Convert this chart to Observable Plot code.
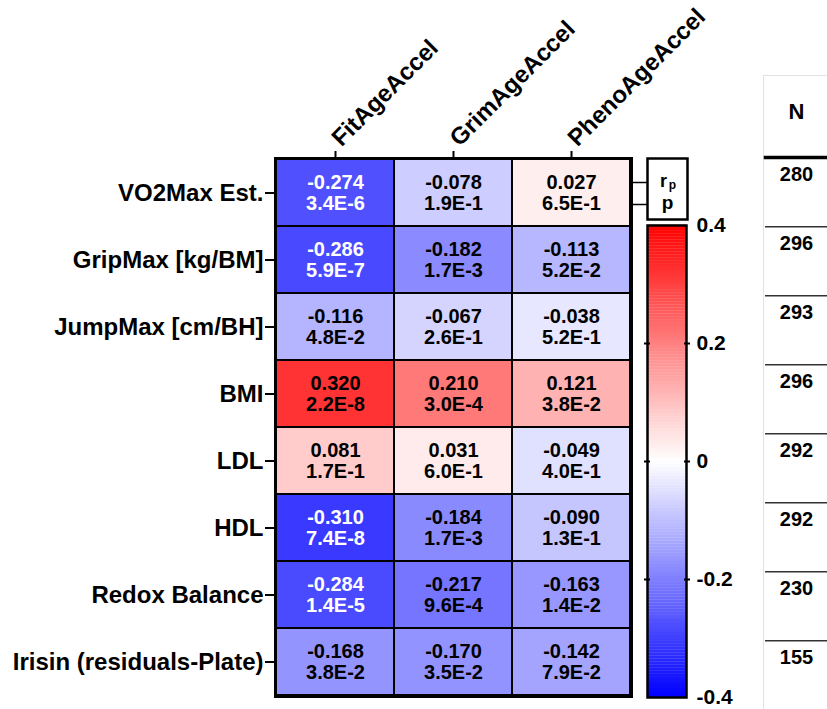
<!DOCTYPE html>
<html>
<head>
<meta charset="utf-8">
<script src="https://cdn.jsdelivr.net/npm/d3@7"></script>
<script src="https://cdn.jsdelivr.net/npm/@observablehq/plot@0.6"></script>
<style>
  html, body { margin: 0; padding: 0; background: #fff; }
  #chart { position: relative; width: 827px; height: 709px; overflow: hidden;
           font-family: "Liberation Sans", Arial, sans-serif; }
  #chart > svg { position: absolute; overflow: visible; }
</style>
</head>
<body>
<div id="chart"></div>
<script>
// Traits (rows) and epigenetic clocks (columns)
const rows = ["VO2Max Est.", "GripMax [kg/BM]", "JumpMax [cm/BH]", "BMI", "LDL", "HDL",
              "Redox Balance", "Irisin (residuals-Plate)"];
const columns = ["FitAgeAccel", "GrimAgeAccel", "PhenoAgeAccel"];

// Pearson r and p-value per clock
const fitR   = [-0.274, -0.286, -0.116, 0.320, 0.081, -0.310, -0.284, -0.168];
const fitP   = ["3.4E-6", "5.9E-7", "4.8E-2", "2.2E-8", "1.7E-1", "7.4E-8", "1.4E-5", "3.8E-2"];
const grimR  = [-0.078, -0.182, -0.067, 0.210, 0.031, -0.184, -0.217, -0.170];
const grimP  = ["1.9E-1", "1.7E-3", "2.6E-1", "3.0E-4", "6.0E-1", "1.7E-3", "9.6E-4", "3.5E-2"];
const phenoR = [0.027, -0.113, -0.038, 0.121, -0.049, -0.090, -0.163, -0.142];
const phenoP = ["6.5E-1", "5.2E-2", "5.2E-1", "3.8E-2", "4.0E-1", "1.3E-1", "1.4E-2", "7.9E-2"];

// Sample size per trait
const nValues = [280, 296, 293, 296, 292, 292, 230, 155];

// Colour bar ticks
const barTicks = [-0.4, -0.2, 0, 0.2, 0.4];

const seriesR = [fitR, grimR, phenoR];
const seriesP = [fitP, grimP, phenoP];
const cells = columns.flatMap((col, j) =>
  rows.map((row, i) => ({row, col, r: seriesR[j][i], p: seriesP[j][i]})));
const nTable = rows.map((row, i) => ({row, n: nValues[i]}));

const FONT = "'Liberation Sans', Arial, sans-serif";
const color = {type: "linear", domain: [-0.4, 0, 0.4], range: ["#0000ff", "#ffffff", "#ff0000"], interpolate: "rgb"};
const fmtR = r => r.toFixed(3);
const fmtTick = v => v === 0 ? "0" : v.toFixed(1);

const chart = document.getElementById("chart");
function place(svg, left, top) {
  svg.style.left = left + "px";
  svg.style.top = top + "px";
  chart.appendChild(svg);
}

// Heatmap
const heat = Plot.plot({
  width: 640, height: 709,
  marginLeft: 275, marginRight: 9, marginTop: 158, marginBottom: 13,
  style: {fontFamily: FONT, background: "transparent"},
  x: {type: "band", domain: columns, padding: 0},
  y: {type: "band", domain: rows, padding: 0},
  color,
  marks: [
    Plot.cell(cells, {x: "col", y: "row", fill: "r", stroke: "black", strokeWidth: 2}),
    Plot.frame({stroke: "black", strokeWidth: 3}),
    Plot.text(cells, {
      x: "col", y: "row",
      text: d => fmtR(d.r) + "\n" + d.p,
      fill: d => d.r < -0.25 ? "white" : "black",
      fontSize: 20, fontWeight: "bold", lineHeight: 1.03
    }),
    Plot.axisY({anchor: "left", tickSize: 10, tickPadding: 2, strokeWidth: 2,
                fontSize: 24, fontWeight: "bold", fill: "black", label: null}),
    Plot.axisX({anchor: "top", tickSize: 8, strokeWidth: 2, tickFormat: () => "", label: null}),
    Plot.text(columns, {
      x: d => d, frameAnchor: "top", dx: 6, dy: -11,
      rotate: -45, textAnchor: "start", lineAnchor: "bottom",
      fontSize: 24, fontWeight: "bold", fill: "black"
    })
  ]
});
place(heat, 0, 0);

// Key box: which line is r and which is p
const key = Plot.plot({
  width: 70, height: 76,
  marginLeft: 22, marginRight: 8, marginTop: 8, marginBottom: 7,
  style: {fontFamily: FONT, background: "transparent"},
  y: {type: "point", domain: ["r", "p"], range: [32, 54], padding: 0},
  marks: [
    Plot.frame({stroke: "black", strokeWidth: 2.5}),
    Plot.axisY({anchor: "left", tickSize: 16, strokeWidth: 1.5, tickFormat: () => "", label: null}),
    Plot.text(["r"], {y: d => d, text: ["r"], dx: -4, dy: -1, fontSize: 18, fontWeight: "bold"}),
    Plot.text(["r"], {y: d => d, text: ["p"], dx: 5, dy: 3, fontSize: 12, fontWeight: "bold"}),
    Plot.text(["p"], {y: d => d, text: ["p"], dy: -2, fontSize: 19, fontWeight: "bold"})
  ]
});
place(key, 625, 150);

// Colour bar
const stops = d3.range(0, 160).map(i => -0.4 + i * 0.005);
const bar = Plot.plot({
  width: 196, height: 709,
  marginLeft: 16, marginRight: 141, marginTop: 225, marginBottom: 12,
  style: {fontFamily: FONT, background: "transparent"},
  y: {type: "linear", domain: [-0.4, 0.4]},
  color,
  marks: [
    Plot.rect(stops, {y1: d => d, y2: d => d + 0.0055, fill: d => d + 0.0025}),
    Plot.frame({stroke: "black", strokeWidth: 2.5}),
    Plot.axisY({anchor: "left", ticks: [-0.2, 0, 0.2], tickSize: 6, dx: 3, strokeWidth: 2,
                tickFormat: () => "", label: null}),
    Plot.axisY({anchor: "right", ticks: [-0.2, 0, 0.2], tickSize: 6, dx: -3, strokeWidth: 2,
                tickFormat: () => "", label: null}),
    Plot.axisY({anchor: "right", ticks: barTicks, tickSize: 0, tickPadding: 10,
                tickFormat: fmtTick, fontSize: 21, fontWeight: "bold", fill: "black", label: null})
  ]
});
place(bar, 631, 0);

// Sample size column
const bw = (712 - 157) / rows.length;
const nPlot = Plot.plot({
  width: 87, height: 709,
  marginLeft: 25, marginRight: 0, marginTop: 157, marginBottom: 0,
  style: {fontFamily: FONT, background: "transparent"},
  y: {type: "band", domain: rows, range: [157, 712], padding: 0, axis: null},
  marks: [
    Plot.frame({stroke: "#e2e2e2", strokeWidth: 1, insetTop: -82, insetLeft: -2, insetRight: -10, insetBottom: -10}),
    Plot.frame({anchor: "top", stroke: "black", strokeWidth: 3.5}),
    Plot.ruleY(nTable, {y: "row", dy: bw / 2 - 2, stroke: "#333", strokeWidth: 1.5}),
    Plot.text(nTable, {y: "row", text: d => String(d.n), dy: -19, fontSize: 20, fontWeight: "bold"}),
    Plot.text(["N"], {text: d => d, frameAnchor: "top", dy: -54, fontSize: 22, fontWeight: "bold"})
  ]
});
place(nPlot, 740, 0);
</script>
</body>
</html>
